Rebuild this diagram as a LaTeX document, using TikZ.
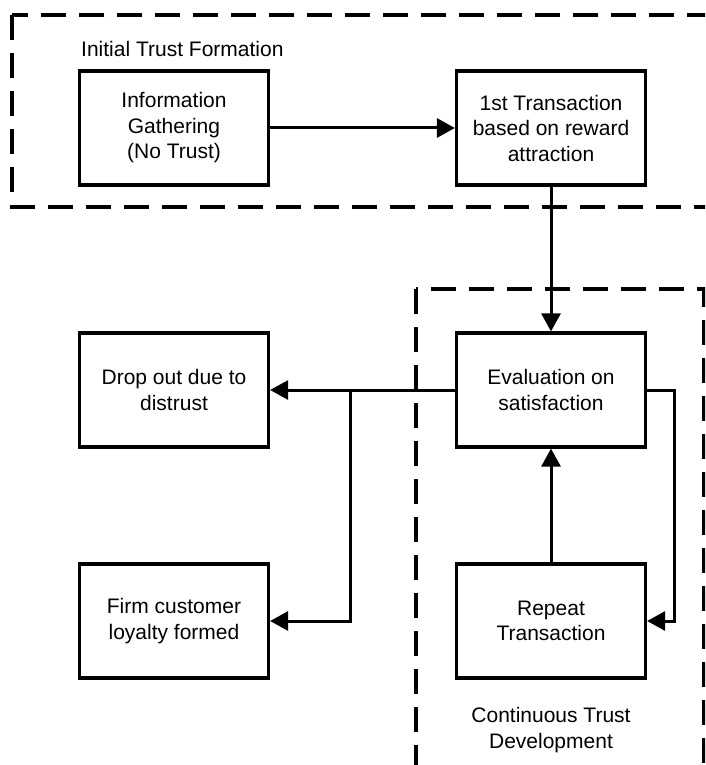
\documentclass[tikz,border=0pt]{standalone}
\usepackage{fontspec}
\setmainfont{Liberation Sans}
\usetikzlibrary{arrows.meta}
\begin{document}
\begin{tikzpicture}[x=1pt,y=-1pt,
  every node/.style={font=\fontsize{21}{25.5}\selectfont},
  stagebox/.style={draw,line width=3.2pt,minimum width=189pt,minimum height=114pt,align=center,inner sep=0pt},
  link/.style={line width=3pt,-{Triangle[length=18pt,width=19pt]}},
  phase/.style={line width=3.2pt,dash pattern=on 25pt off 13pt}]
\useasboundingbox (0,0) rectangle (705,765);
\begin{scope}
\clip (0,0) rectangle (705,765);
% phase frames
\draw[phase] (12,15) rectangle (740,207);
\draw[phase] (416,289) rectangle (704,800);
\end{scope}
\node[anchor=west,inner sep=0pt] (initlbl) at (81,49) {Initial Trust Formation};
\node[align=center,inner sep=0pt] (contlbl) at (551,730) {Continuous Trust\\Development};
% stages
\node[stagebox] (info) at (174,128) {Information\\Gathering\\(No Trust)};
\node[stagebox] (first) at (551,128) {1st Transaction\\based on reward\\attraction};
\node[stagebox] (eval) at (551,390) {Evaluation on\\satisfaction};
\node[stagebox] (rep) at (551,621) {Repeat\\Transaction};
\node[stagebox] (drop) at (174,390) {Drop out due to\\distrust};
\node[stagebox] (firm) at (174,621) {Firm customer\\loyalty formed};
% flow
\draw[link] (info.east) -- (first.west);
\draw[link] (first.south) -- (eval.north);
\draw[link] (rep.north) -- (eval.south);
\draw[link] (eval.east) -- ++(27,0) |- (rep.east);
\draw[link] (eval.west) -- (drop.east);
\coordinate (split) at (350,390);
\draw[link] (split) |- (firm.east);
\end{tikzpicture}
\end{document}
